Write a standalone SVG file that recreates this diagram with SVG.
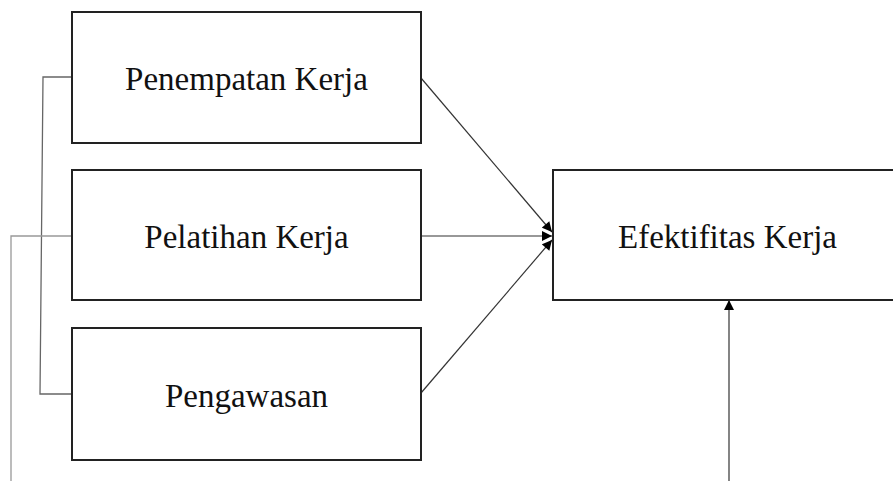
<svg xmlns="http://www.w3.org/2000/svg" width="893" height="481" viewBox="0 0 893 481">
  <style>
    .box { fill: #ffffff; stroke: #222222; stroke-width: 2; }
    .label { font-family: "Liberation Serif", "Times New Roman", serif; font-size: 33px; fill: #111111; text-anchor: middle; }
    .link { fill: none; stroke: #333333; stroke-width: 1.2; }
    .bracket { fill: none; stroke: #666666; stroke-width: 1.3; }
    .outer { fill: none; stroke: #999999; stroke-width: 1.3; }
  </style>
  <defs>
    <marker id="head" viewBox="0 0 10 10" refX="10" refY="5" markerWidth="11" markerHeight="10" markerUnits="userSpaceOnUse" orient="auto">
      <path d="M0,0 L10,5 L0,10 Z" fill="#000000"/>
    </marker>
  </defs>

  <rect width="893" height="481" fill="#ffffff"/>

  <g id="connectors">
    <!-- left brackets -->
    <polyline class="bracket" points="72,77 43,77 40,394 72,394"/>
    <polyline class="outer" points="72,236 11,236 11,481"/>
    <!-- inputs to Efektifitas Kerja -->
    <line class="link" x1="421" y1="78" x2="552" y2="232" marker-end="url(#head)"/>
    <line class="link" x1="421" y1="236" x2="552" y2="236" marker-end="url(#head)"/>
    <line class="link" x1="421" y1="393" x2="552" y2="240" marker-end="url(#head)"/>
    <!-- from below -->
    <line class="link" x1="729" y1="481" x2="729" y2="300" marker-end="url(#head)"/>
  </g>

  <g id="penempatan-kerja">
    <rect class="box" x="72" y="12" width="349" height="131"/>
    <text class="label" x="246.5" y="90">Penempatan Kerja</text>
  </g>

  <g id="pelatihan-kerja">
    <rect class="box" x="72" y="170" width="349" height="130"/>
    <text class="label" x="246.5" y="248">Pelatihan Kerja</text>
  </g>

  <g id="pengawasan">
    <rect class="box" x="72" y="328" width="349" height="132"/>
    <text class="label" x="246.5" y="407">Pengawasan</text>
  </g>

  <g id="efektifitas-kerja">
    <rect class="box" x="553" y="170" width="360" height="130"/>
    <text class="label" x="727.5" y="248">Efektifitas Kerja</text>
  </g>
</svg>
